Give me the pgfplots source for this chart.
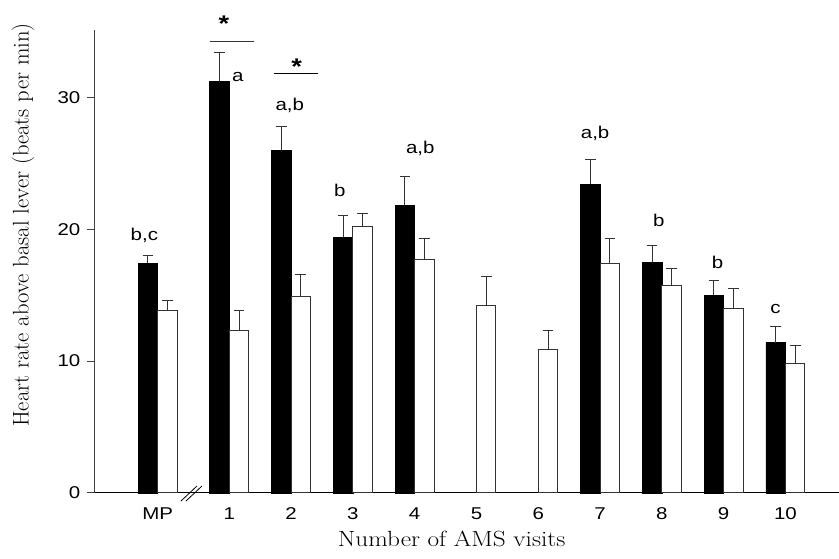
\documentclass[border=0pt]{standalone}
\usepackage{fontspec}
\usepackage{pgfplots}
\pgfplotsset{compat=1.18}
\newfontfamily\sansf[FakeStretch=1.2]{Liberation Sans}
\newfontfamily\xlabf[FakeStretch=1.15]{Latin Modern Roman}
\newcommand{\tickfont}{\sansf\fontsize{12.8}{15}\selectfont}
\begin{document}
\begin{tikzpicture}
\useasboundingbox (0,0) rectangle (629.25pt,419.25pt);
\begin{axis}[
  at={(70.5pt,49.5pt)}, anchor=south west,
  scale only axis, width=558.75pt, height=347.25pt,
  xmin=-1.189, xmax=10.866, ymin=0, ymax=35.1,
  axis x line*=bottom, axis y line*=left,
  axis line style={-, line width=0.75pt},
  y axis line style={black!75},
  ybar=0pt, bar width=0.3155,
  xtick={-0.1586,1,2,3,4,5,6,7,8,9,10},
  xticklabels={MP,1,2,3,4,5,6,7,8,9,10},
  xtick style={draw=none},
  ytick={0,10,20,30},
  tick align=outside, major tick length=5.25pt,
  ytick style={line width=0.75pt, black!75},
  /pgf/number format/assume math mode=true,
  tick label style={font=\tickfont},
  xticklabel style={yshift=-2.5pt},
  yticklabel style={xshift=-1.5pt},
  xlabel={Number of AMS visits},
  ylabel={Heart rate above basal lever (beats per min)},
  every axis x label/.style={at={(axis description cs:0.4801,-0.116)}, anchor=base, font=\xlabf\fontsize{16.5}{19}\selectfont},
  every axis y label/.style={at={(axis description cs:-0.0953,0.579)}, rotate=90, anchor=center, font=\fontsize{17}{20}\selectfont},
  clip=false,
  error bars/y dir=plus, error bars/y explicit,
  error bars/error bar style={line width=0.75pt, black!80},
  error bars/error mark options={rotate=90, mark size=4pt, line width=0.75pt, black!80},
]
\addplot[fill=black, draw=black, line width=0.5pt] coordinates {
  (-0.1586,17.4) +- (0,0.6)
  (1,31.2) +- (0,2.2)
  (2,26.0) +- (0,1.8)
  (3,19.4) +- (0,1.6)
  (4,21.8) +- (0,2.2)
  (7,23.4) +- (0,1.9)
  (8,17.5) +- (0,1.3)
  (9,15.0) +- (0,1.1)
  (10,11.4) +- (0,1.2)
};
\addplot[fill=white, draw=black!80, line width=0.75pt] coordinates {
  (-0.1586,13.8) +- (0,0.8)
  (1,12.3) +- (0,1.5)
  (2,14.9) +- (0,1.7)
  (3,20.2) +- (0,1.0)
  (4,17.7) +- (0,1.6)
  (5,14.2) +- (0,2.2)
  (6,10.9) +- (0,1.4)
  (7,17.4) +- (0,1.9)
  (8,15.7) +- (0,1.3)
  (9,14.0) +- (0,1.5)
  (10,9.8) +- (0,1.4)
};
% axis break
\draw[line width=0.6pt] (axis cs:0.218,-0.61) -- (axis cs:0.477,0.53);
\draw[line width=0.6pt] (axis cs:0.299,-0.61) -- (axis cs:0.558,0.53);
% significance
\draw[line width=0.75pt, black!80] (axis cs:0.688,34.24) -- (axis cs:1.40,34.24);
\draw[line width=0.75pt] (axis cs:1.724,31.8) -- (axis cs:2.436,31.8);
\node[anchor=base, font=\sansf\bfseries\fontsize{17}{19}\selectfont, inner sep=0pt] at (axis cs:0.914,35.0) {*};
\node[anchor=base, font=\sansf\bfseries\fontsize{17}{19}\selectfont, inner sep=0pt] at (axis cs:2.09,31.75) {*};
% letters
\begin{scope}[every node/.style={anchor=base, font=\tickfont, inner sep=0pt}]
\node at (axis cs:-0.374,19.17) {b,c};
\node at (axis cs:1.14,31.2) {a};
\node at (axis cs:1.98,29.0) {a,b};
\node at (axis cs:2.79,22.45) {b};
\node at (axis cs:4.09,25.73) {a,b};
\node at (axis cs:6.92,26.9) {a,b};
\node at (axis cs:7.95,20.23) {b};
\node at (axis cs:8.90,16.99) {b};
\node at (axis cs:9.84,13.61) {c};
\end{scope}
\end{axis}
\end{tikzpicture}
\end{document}
